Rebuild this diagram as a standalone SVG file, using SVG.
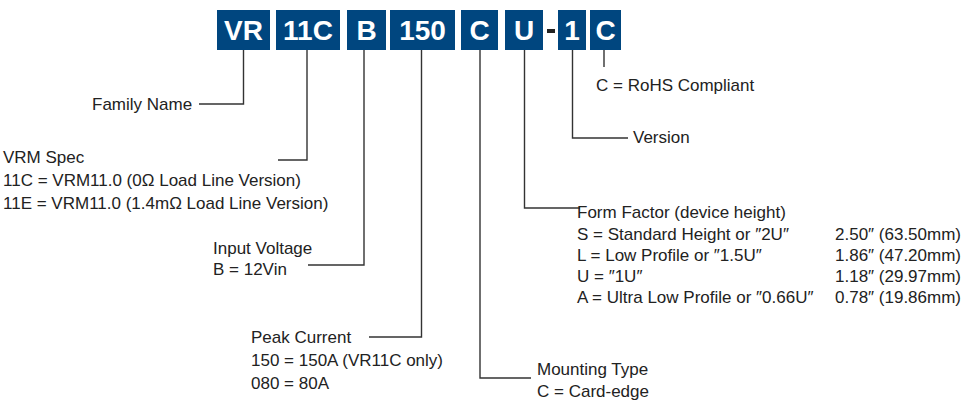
<svg xmlns="http://www.w3.org/2000/svg" width="964" height="401" viewBox="0 0 964 401">
<style>
.box{fill:#00467f}
.bt{font-family:"Liberation Sans",Arial,sans-serif;font-weight:bold;font-size:28px;fill:#fff;text-anchor:middle}
.t{font-family:"Liberation Sans",Arial,sans-serif;font-size:17px;fill:#222}
.ln{fill:none;stroke:#333;stroke-width:1.4}
</style>
<rect width="964" height="401" fill="#fff"/>
<g id="code">
<g id="b-vr"><rect class="box" x="217" y="10" width="53" height="40"/><text class="bt" x="243.5" y="40">VR</text></g>
<g id="b-11c"><rect class="box" x="276" y="10" width="64" height="40"/><text class="bt" x="308" y="40">11C</text></g>
<g id="b-b"><rect class="box" x="347" y="10" width="39" height="40"/><text class="bt" x="366.5" y="40">B</text></g>
<g id="b-150"><rect class="box" x="390" y="10" width="65" height="40"/><text class="bt" x="422.5" y="40">150</text></g>
<g id="b-c"><rect class="box" x="461" y="10" width="37" height="40"/><text class="bt" x="479.5" y="40">C</text></g>
<g id="b-u"><rect class="box" x="505" y="10" width="38" height="40"/><text class="bt" x="524" y="40">U</text></g>
<g id="dash"><rect x="547" y="29" width="8" height="4" fill="#222"/></g>
<g id="b-1"><rect class="box" x="558" y="10" width="28" height="40"/><text class="bt" x="572" y="40">1</text></g>
<g id="b-c2"><rect class="box" x="590" y="10" width="31" height="40"/><text class="bt" x="605.5" y="40">C</text></g>
</g>
<g id="connectors">
<path class="ln" d="M243.5 50V104H199"/>
<path class="ln" d="M307 50V160H278"/>
<path class="ln" d="M364 50V265H308"/>
<path class="ln" d="M421.5 50V337H369"/>
<path class="ln" d="M480 50V378H531"/>
<path class="ln" d="M524.5 50V208H580"/>
<path class="ln" d="M572.5 50V138H628"/>
<path class="ln" d="M604 50V67"/>
</g>
<g id="family"><text class="t" x="92" y="110">Family Name</text></g>
<g id="vrm">
<text class="t" x="3" y="163">VRM Spec</text>
<text class="t" x="3" y="186">11C = VRM11.0 (0Ω Load Line Version)</text>
<text class="t" x="3" y="209">11E = VRM11.0 (1.4mΩ Load Line Version)</text>
</g>
<g id="input">
<text class="t" x="213" y="254">Input Voltage</text>
<text class="t" x="213" y="275">B = 12Vin</text>
</g>
<g id="peak">
<text class="t" x="251" y="343">Peak Current</text>
<text class="t" x="251" y="366">150 = 150A (VR11C only)</text>
<text class="t" x="251" y="389">080 = 80A</text>
</g>
<g id="mount">
<text class="t" x="537" y="375">Mounting Type</text>
<text class="t" x="537" y="397">C = Card-edge</text>
</g>
<g id="form">
<text class="t" x="577" y="218">Form Factor (device height)</text>
<text class="t" x="577" y="240">S = Standard Height or ″2U″</text>
<text class="t" x="577" y="261">L = Low Profile or ″1.5U″</text>
<text class="t" x="577" y="282">U = ″1U″</text>
<text class="t" x="577" y="303">A = Ultra Low Profile or ″0.66U″</text>
<text class="t" x="835" y="240">2.50″ (63.50mm)</text>
<text class="t" x="835" y="261">1.86″ (47.20mm)</text>
<text class="t" x="835" y="282">1.18″ (29.97mm)</text>
<text class="t" x="835" y="303">0.78″ (19.86mm)</text>
</g>
<g id="version"><text class="t" x="633" y="143">Version</text></g>
<g id="rohs"><text class="t" x="596" y="91">C = RoHS Compliant</text></g>
</svg>
